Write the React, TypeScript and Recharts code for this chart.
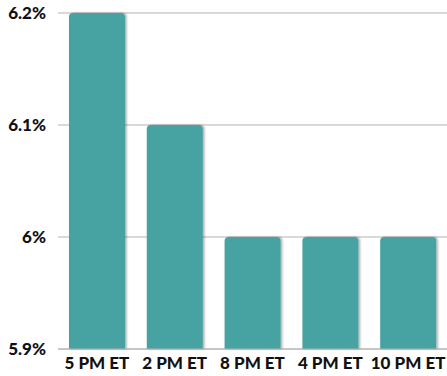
import { Bar, BarChart, CartesianGrid, XAxis, YAxis } from 'recharts'

const slots = ['5 PM ET', '2 PM ET', '8 PM ET', '4 PM ET', '10 PM ET']
const rates = [6.2, 6.1, 6.0, 6.0, 6.0]
const rateTicks = [5.9, 6.0, 6.1, 6.2]

const data = slots.map((slot, i) => ({ slot, rate: rates[i] }))

const formatPct = (v: number) => `${Number(v.toFixed(1))}%`

const labelFont = { fontFamily: 'Lato', fontWeight: 900, fontSize: 17, fill: '#111' }

function App() {
  return (
    <div style={{ position: 'absolute', left: 0, top: 0 }}>
      <BarChart
        width={447}
        height={376}
        data={data}
        margin={{ top: 13, right: 0, left: 0, bottom: 0 }}
      >
        <defs>
          <filter id="barShadow" x="-10%" y="-10%" width="130%" height="120%">
            <feDropShadow dx="1.5" dy="0" stdDeviation="1" floodColor="#000" floodOpacity="0.35" />
          </filter>
        </defs>
        <CartesianGrid vertical={false} stroke="#b3b3b3" strokeWidth={1} />
        <XAxis
          dataKey="slot"
          axisLine={{ stroke: '#b3b3b3' }}
          tickLine={false}
          height={27}
          tickMargin={2}
          interval={0}
          tick={labelFont}
        />
        <YAxis
          width={58}
          domain={[5.9, 6.2]}
          ticks={rateTicks}
          axisLine={false}
          tickLine={false}
          tickMargin={6}
          tickFormatter={formatPct}
          tick={labelFont}
        />
        <Bar
          dataKey="rate"
          fill="#47a3a2"
          barSize={56}
          radius={[4, 4, 0, 0]}
          filter="url(#barShadow)"
          isAnimationActive={false}
        />
      </BarChart>
    </div>
  )
}

export default App
